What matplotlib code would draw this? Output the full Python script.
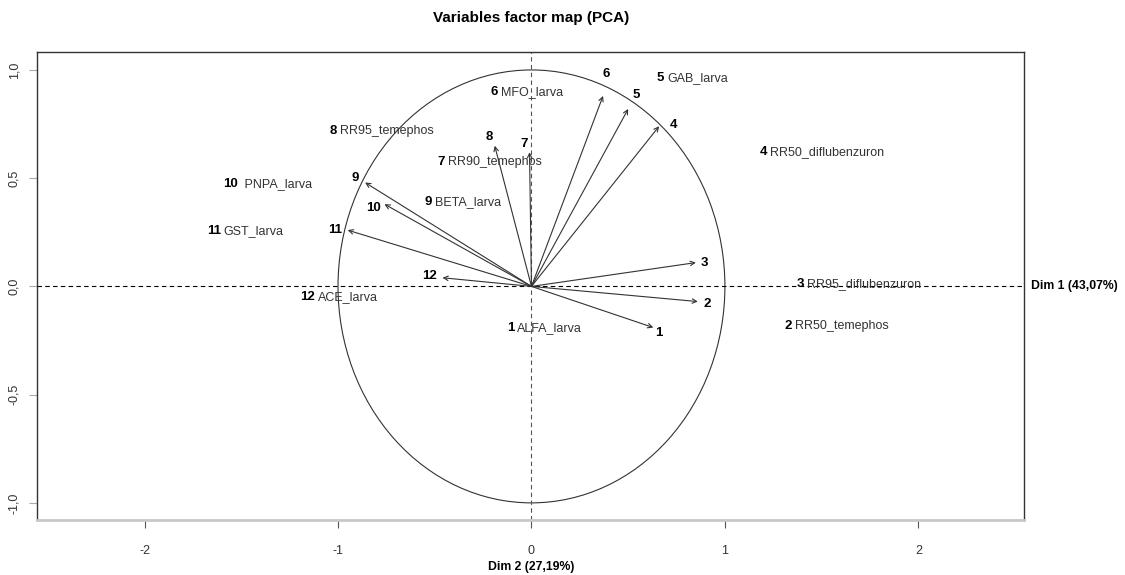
import numpy as np
import matplotlib
matplotlib.use("Agg")
import matplotlib.pyplot as plt
from matplotlib.patches import Circle

plt.rcParams['font.family'] = ['Liberation Sans', 'DejaVu Sans']

# variable coordinates on the first two dimensions
var_ids = ["1", "2", "3", "4", "5", "6", "7", "8", "9", "10", "11", "12"]
var_x = [0.63, 0.86, 0.85, 0.66, 0.50, 0.37, -0.01, -0.19, -0.86, -0.76, -0.95, -0.46]
var_y = [-0.19, -0.07, 0.11, 0.74, 0.82, 0.88, 0.62, 0.65, 0.48, 0.38, 0.26, 0.04]

# key of variable names written inside the plot
key_names = ["ALFA_larva", "RR50_temephos", "RR95_diflubenzuron", "RR50_diflubenzuron",
             "GAB_larva", "MFO_larva", "RR90_temephos", "RR95_temephos",
             "BETA_larva", "PNPA_larva", "GST_larva", "ACE_larva"]
key_x = [-0.083, 1.355, 1.417, 1.226, 0.693, -0.166, -0.440, -0.998, -0.507, -1.510, -1.599, -1.112]
key_y = [-0.194, -0.181, 0.009, 0.620, 0.963, 0.898, 0.574, 0.718, 0.389, 0.472, 0.255, -0.051]

x_ticks = [-2, -1, 0, 1, 2]
y_ticks = [-1.0, -0.5, 0.0, 0.5, 1.0]

# number label offsets from arrow tips (points)
num_offsets = [(4, -4), (7, -2), (6, 0), (10, 1), (6, 10), (2, 16), (-4, 6),
               (-4, 6), (-7, 3), (-8, -3), (-9, 0), (-9, 1)]

fig = plt.figure(figsize=(11.25, 5.75), dpi=100)
ax = fig.add_axes([0.0329, 0.0957, 0.8773, 0.8139])
ax.set_xlim(-2.556, 2.546)
ax.set_ylim(-1.079, 1.083)

ax.axhline(0, color='black', lw=0.8, ls=(0, (4, 3)))
ax.axvline(0, color='#555555', lw=0.8, ls=(0, (4, 3)))
ax.add_patch(Circle((0, 0), 1.0, fill=False, ec='#333333', lw=0.8))

for vid, x, y, off in zip(var_ids, var_x, var_y, num_offsets):
    ax.annotate("", xy=(x, y), xytext=(0, 0),
                arrowprops=dict(arrowstyle='->', color='#333333', lw=0.8,
                                shrinkA=0, shrinkB=0, mutation_scale=8))
    ax.annotate(vid, xy=(x, y), xytext=off, textcoords='offset points',
                ha='center', va='center', fontsize=9.5, fontweight='bold')

for vid, name, x, y in zip(var_ids, key_names, key_x, key_y):
    ax.annotate(vid, xy=(x, y), xytext=(-1, 0), textcoords='offset points',
                ha='right', va='center', fontsize=9.5, fontweight='bold')
    if vid == "10":
        name = " " + name
    ax.annotate(name, xy=(x, y), xytext=(1, 0), textcoords='offset points',
                ha='left', va='center', fontsize=9, color='#333333')

ax.set_xticks(x_ticks)
ax.set_xticklabels([str(t) for t in x_ticks], fontsize=9, color='#333333')
ax.set_yticks(y_ticks)
ax.set_yticklabels([f"{t:.1f}".replace('.', ',') for t in y_ticks],
                   fontsize=9, color='#333333', rotation=90, va='center')
ax.tick_params(axis='x', length=6, width=0.8, color='#555555', pad=12)
ax.tick_params(axis='y', length=6, width=0.8, color='#aaaaaa', pad=6)

for s in ('left', 'top', 'right'):
    ax.spines[s].set_color('#333333')
    ax.spines[s].set_linewidth(1.0)
ax.spines['bottom'].set_color('#c8c8c8')
ax.spines['bottom'].set_linewidth(2.0)

fig.text(0.472, 0.968, "Variables factor map (PCA)", ha='center', va='center',
         fontsize=11, fontweight='bold')
fig.text(1031 / 1125, 1 - 286 / 575, "Dim 1 (43,07%)", ha='left', va='center',
         fontsize=8.8, fontweight='bold')
fig.text(531 / 1125, 1 - 567 / 575, "Dim 2 (27,19%)", ha='center', va='center',
         fontsize=8.8, fontweight='bold')

fig.savefig("out.png", dpi=100)
